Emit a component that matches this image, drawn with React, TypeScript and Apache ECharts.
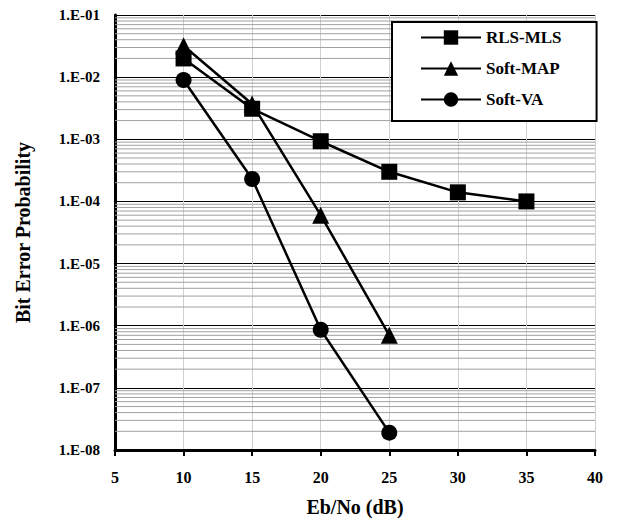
import React, { useEffect, useRef } from "react";
import * as echarts from "echarts";

const xTicks = [5, 10, 15, 20, 25, 30, 35, 40];
const rlsMls: [number, number][] = [
  [10, 2.0e-2], [15, 3.1e-3], [20, 9.3e-4], [25, 3.0e-4], [30, 1.4e-4], [35, 1.0e-4],
];
const softMap: [number, number][] = [
  [10, 3.2e-2], [15, 3.7e-3], [20, 6.0e-5], [25, 7.0e-7],
];
const softVa: [number, number][] = [
  [10, 9.0e-3], [15, 2.3e-4], [20, 8.6e-7], [25, 1.9e-8],
];
const decadeExponents = [-8, -7, -6, -5, -4, -3, -2];
const minorMultipliers = [2, 3, 4, 5, 6, 7, 8, 9];

const FONT = "'Liberation Serif', 'Times New Roman', serif";

export default function App() {
  const ref = useRef<HTMLDivElement>(null);
  useEffect(() => {
    if (!ref.current) return;
    const chart = echarts.init(ref.current, null, { renderer: "svg" });
    const minorValues: [number, number][] = [];
    decadeExponents.forEach((e) => {
      minorMultipliers.forEach((m) => {
        minorValues.push([xTicks[0], m * Math.pow(10, e)]);
      });
    });
    const xMax = xTicks[xTicks.length - 1];
    const lineSeries = (name: string, data: [number, number][], symbol: string, size: number) => ({
      name,
      type: "line",
      data,
      symbol,
      symbolSize: size,
      z: 3,
      lineStyle: { color: "#000", width: 2.5 },
      itemStyle: { color: "#000" },
    });
    chart.setOption({
      animation: false,
      backgroundColor: "#fff",
      grid: { left: 115, right: 27, top: 15, bottom: 68 },
      legend: {
        data: ["RLS-MLS", "Soft-MAP", "Soft-VA"],
        orient: "vertical",
        left: 392,
        top: 22,
        z: 10,
        backgroundColor: "#fff",
        borderColor: "#000",
        borderWidth: 2,
        borderRadius: 0,
        padding: [7, 35, 13, 28],
        itemGap: 14,
        itemWidth: 60,
        itemHeight: 18,
        textStyle: { fontFamily: FONT, fontWeight: "bold", fontSize: 17, color: "#000" },
      },
      xAxis: {
        type: "value",
        min: xTicks[0],
        max: xMax,
        interval: 5,
        name: "Eb/No (dB)",
        nameLocation: "middle",
        nameGap: 47,
        nameTextStyle: { fontFamily: FONT, fontWeight: "bold", fontSize: 20, color: "#000" },
        axisLine: { lineStyle: { color: "#000", width: 3 } },
        axisTick: { show: true, inside: false, length: 6, lineStyle: { color: "#000", width: 2 } },
        axisLabel: { margin: 19, fontFamily: FONT, fontWeight: "bold", fontSize: 16, color: "#000" },
        splitLine: { show: true, lineStyle: { color: "#d0d0d0", width: 1 } },
      },
      yAxis: {
        type: "log",
        logBase: 10,
        min: 1e-8,
        max: 1e-1,
        splitNumber: 7,
        name: "Bit Error Probability",
        nameLocation: "middle",
        nameGap: 82,
        nameTextStyle: { fontFamily: FONT, fontWeight: "bold", fontSize: 20, color: "#000" },
        axisLine: { show: true, lineStyle: { color: "#000", width: 3 } },
        axisTick: { show: false },
        axisLabel: {
          margin: 15,
          fontFamily: FONT,
          fontWeight: "bold",
          fontSize: 15,
          color: "#000",
          formatter: (v: number) => {
            const e = Math.round(Math.log10(v));
            const a = Math.abs(e);
            return "1.E" + (e < 0 ? "-" : "+") + (a < 10 ? "0" + a : String(a));
          },
        },
        splitLine: { show: true, lineStyle: { color: "#000", width: 1 } },
      },
      series: [
        {
          name: "minor-grid",
          type: "custom",
          z: 1,
          silent: true,
          data: minorValues,
          encode: { x: 0, y: 1 },
          renderItem: (params: any, api: any) => {
            const v = api.value(1);
            const p1 = api.coord([api.value(0), v]);
            const p2 = api.coord([xMax, v]);
            return {
              type: "line",
              shape: { x1: p1[0], y1: p1[1], x2: p2[0], y2: p2[1] },
              style: { stroke: "#a0a0a0", lineWidth: 1 },
            };
          },
        },
        lineSeries("RLS-MLS", rlsMls, "rect", 16),
        lineSeries("Soft-MAP", softMap, "triangle", 17),
        lineSeries("Soft-VA", softVa, "circle", 16),
      ],
    });
    return () => chart.dispose();
  }, []);
  return (
    <div
      ref={ref}
      style={{ position: "fixed", left: 0, top: 0, width: 622, height: 522 }}
    />
  );
}
